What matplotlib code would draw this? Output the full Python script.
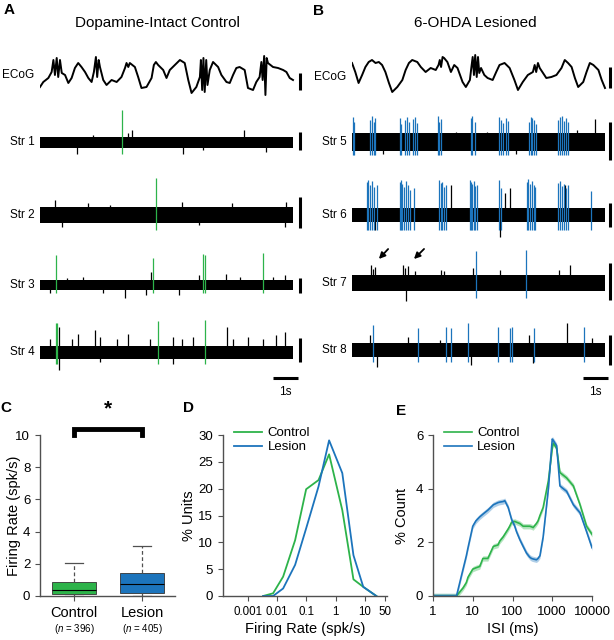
import numpy as np
import matplotlib
matplotlib.use('Agg')
import matplotlib.pyplot as plt
from matplotlib.transforms import blended_transform_factory

plt.rcParams['font.family'] = ['Liberation Sans', 'DejaVu Sans']
plt.rcParams['mathtext.fontset'] = 'custom'
plt.rcParams['mathtext.rm'] = 'Liberation Sans'
plt.rcParams['mathtext.it'] = 'Liberation Sans:italic'

GREEN = '#2db34a'
BLUE = '#1c74bc'
GRAY = '#505050'

#%% ECoG traces (time in s, amplitude in arbitrary units)
ecog_a_t = [0, 0.13, 0.33, 0.46, 0.53, 0.59, 0.66, 0.72, 0.79, 0.86, 0.99, 1.12, 1.25, 1.38, 1.51,
            1.64, 1.78, 1.91, 2.04, 2.13, 2.21, 2.26, 2.32, 2.37, 2.5, 2.63, 2.83, 3.03, 3.22, 3.36,
            3.42, 3.49, 3.55, 3.75, 3.88, 4.01, 4.21, 4.41, 4.5, 4.58, 4.67, 4.87, 5.0, 5.13, 5.33,
            5.53, 5.72, 5.86, 5.99, 6.18, 6.32, 6.36, 6.41, 6.46, 6.51, 6.57, 6.62, 6.71, 6.84, 7.04,
            7.17, 7.37, 7.5, 7.63, 7.76, 7.89, 8.09, 8.22, 8.42, 8.55, 8.68, 8.75, 8.8, 8.86, 8.91,
            8.96, 9.01, 9.21, 9.41, 9.61, 9.74, 9.87, 10.0]
ecog_a_v = [-12, -7, -3, 3, 15, 0, 17, -2, 15, 2, 0, -8, -3, 7, 12,
            8, 3, -3, -7, 3, 18, -2, 15, 8, -5, -10, -5, -7, -2, 7,
            12, 8, 12, 8, -2, -13, -12, -3, 10, 13, 10, 5, -3, 5, 10,
            15, 12, -5, -18, -12, -2, 15, -15, 17, -17, 15, -10, 5, 13, 8,
            0, -7, -8, 0, 7, 8, 5, -13, -15, -7, -2, 13, -5, 19, -20,
            17, 12, 8, 7, 5, 3, -3, -5]

ecog_b_t = [0, 0.13, 0.26, 0.4, 0.53, 0.66, 0.79, 0.93, 1.06, 1.19, 1.32, 1.46, 1.59, 1.79, 1.99,
            2.12, 2.25, 2.38, 2.58, 2.72, 2.91, 3.11, 3.31, 3.42, 3.47, 3.52, 3.58, 3.64, 3.77, 3.91,
            4.04, 4.17, 4.37, 4.5, 4.66, 4.72, 4.77, 4.82, 4.87, 4.93, 4.98, 5.03, 5.1, 5.23, 5.36,
            5.56, 5.7, 5.83, 6.03, 6.23, 6.42, 6.56, 6.75, 6.95, 7.15, 7.22, 7.28, 7.35, 7.42, 7.68,
            7.88, 8.08, 8.28, 8.41, 8.54, 8.68, 8.81, 8.94, 9.14, 9.27, 9.4, 9.54, 9.74, 9.87, 10.0]
ecog_b_v = [12, 3, -8, 0, 8, 13, 15, 12, 13, 10, 3, -8, -17, -12, -5,
            5, 12, 15, 13, 8, 3, 7, 5, 10, 15, 8, 18, 17, 13, 3,
            10, 7, -7, -12, -5, 8, 18, 0, 20, -2, 18, 2, 7, 0, -3,
            -5, 3, 10, 12, 7, -5, -15, -7, 0, 3, 10, 3, 12, 7, -3,
            -2, 0, 7, 15, 12, 8, -3, -12, -7, 3, 12, 10, 5, -5, -13]

#%% striatal traces: noise band half-width, unit spikes and large background deflections
str_half = [5.5, 8, 5, 6.5, 9, 7, 8, 7]

str1_spk_t = [3.25]
str1_spk_up = [32]
str2_spk_t = [4.6]
str2_spk_up = [37]
str3_spk_t = [0.63, 4.47, 6.45, 6.53, 8.8]
str3_spk_up = [30, 27, 31, 30, 32]
str4_spk_t = [0.62, 0.66, 4.67, 6.54]
str4_spk_up = [29, 29, 31, 32]
str5_spk_t = [0.04, 0.08, 0.72, 0.78, 0.85, 0.92, 1.88, 1.95, 2.1, 2.18, 2.27, 2.4, 2.5, 2.58,
              3.4, 3.45, 3.52, 4.7, 4.76, 4.85, 5.8, 5.87, 5.95, 6.1, 6.18, 7.0, 7.07, 7.13, 7.2,
              7.28, 8.15, 8.22, 8.3, 8.38, 8.45, 8.55]
str5_spk_up = [25, 20, 22, 26, 20, 24, 24, 18, 22, 25, 20, 23, 25, 19,
               26, 20, 23, 24, 26, 20, 25, 22, 19, 24, 21, 20, 25, 24, 22,
               18, 22, 25, 26, 21, 24, 20]
str6_spk_t = [0.6, 0.65, 0.7, 0.78, 0.85, 1.0, 1.88, 1.93, 1.98, 2.05, 2.12, 2.2, 2.3, 2.45,
              3.45, 3.5, 3.55, 3.62, 3.7, 4.65, 4.7, 4.75, 4.82, 4.88, 4.95, 5.82, 5.9, 6.92,
              6.97, 7.03, 7.1, 7.18, 7.25, 8.15, 8.22, 8.3, 8.37, 8.45, 8.55, 9.45]
str6_spk_up = [33, 35, 30, 34, 28, 30, 33, 35, 31, 28, 34, 30, 25, 27,
               35, 32, 33, 28, 30, 35, 33, 31, 34, 29, 30, 35, 27, 33,
               36, 31, 34, 30, 28, 32, 34, 29, 31, 27, 30, 24]
str7_spk_t = [4.9, 6.89]
str7_spk_up = [32, 33]
str8_spk_t = [0.83, 2.61, 3.71, 3.91, 4.6, 5.77, 6.25, 6.32, 7.19, 9.17]
str8_spk_up = [25, 22, 23, 22, 27, 23, 22, 23, 22, 23]
str_spk_dn = [12, 15, 8, 12, 13, 15, 15, 12]

str1_bg_t = [1.45, 3.64, 5.66, 8.05, 8.95, 3.49, 6.45, 2.1]
str1_bg_v = [-12, 12, -12, 12, -10, 9, -8, 7]
str2_bg_t = [0.59, 0.86, 1.9, 5.6, 7.6, 9.67, 9.74, 2.76, 6.3]
str2_bg_v = [15, -12, 12, 13, 12, -12, 13, 10, -10]
str3_bg_t = [3.36, 4.2, 4.4, 5.5, 6.3, 7.37, 7.9, 1.7, 2.5, 9.2, 9.7, 1.05, 0.4]
str3_bg_v = [-13, -10, 13, -10, 10, 11, 8, 8, -8, 8, 10, 7, -8]
str4_bg_t = [0.4, 0.76, 0.76, 1.25, 1.5, 2.17, 2.37, 3.03, 3.49, 4.34, 5.26, 5.6, 6.05, 7.41,
             7.63, 8.22, 8.82, 9.34, 9.67, 5.26, 2.37]
str4_bg_v = [13, -18, 25, 13, 18, 22, 15, 13, 18, 13, 15, 13, 15, 25,
             13, 15, 13, 17, 20, -12, -10]
str5_bg_t = [9.6, 8.88, 5.32, 4.13, 1.23, 6.5]
str5_bg_v = [23, 12, 10, 10, -12, -12]
str6_bg_t = [3.93, 6.24, 6.04, 8.42, 5.84, 0.9]
str6_bg_v = [30, 27, 22, 30, -22, -15]
str7_bg_t = [0.77, 0.82, 0.9, 2.0, 2.08, 2.2, 3.5, 3.65, 4.8, 5.84, 8.2, 8.6, 2.15, 2.5]
str7_bg_v = [18, 14, 16, 18, 15, 17, 13, 12, 15, 13, 13, 18, -18, 12]
str8_bg_t = [8.48, 7.0, 2.2, 0.73, 1.0, 4.72, 7.16, 9.5, 3.47]
str8_bg_v = [27, 15, 13, 15, -17, -15, -13, 12, 10]

#%% summary data
box_groups = ['Control', 'Lesion']
box_n = [396, 405]
box_q1 = [0.12, 0.21]
box_med = [0.37, 0.75]
box_q3 = [0.89, 1.45]
box_lo = [0.0, 0.0]
box_hi = [2.07, 3.1]

fr_bins = [0.0033, 0.0072, 0.0159, 0.041, 0.098, 0.26, 0.6, 1.7, 4.1, 8.9, 25]
fr_control = [0, 0.5, 3.6, 10.4, 19.9, 21.6, 26.4, 16.0, 3.1, 1.7, 0]
fr_lesion = [0, 0, 1.4, 5.8, 12.6, 20.4, 29.0, 22.9, 7.6, 1.7, 0]
fr_ticks = [0.001, 0.01, 0.1, 1, 10, 50]
fr_ticklabels = ['0.001', '0.01', '0.1', '1', '10', '50']

isi_ms = [1, 2, 3, 3.9, 5.7, 6.9, 7.6, 10, 12, 15, 18, 24, 33, 43, 48, 58, 64, 78, 85, 95,
          114, 126, 153, 185, 225, 270, 300, 330, 400, 440, 490, 590, 800, 1000, 1060, 1290,
          1560, 2300, 3400, 5000, 7300, 10000]
isi_control = [0, 0, 0, 0, 0.3, 0.5, 0.7, 1.0, 1.05, 1.1, 1.4, 1.4, 1.85, 1.9, 2.05, 2.2, 2.3,
               2.5, 2.6, 2.75, 2.78, 2.75, 2.7, 2.6, 2.6, 2.6, 2.58, 2.55, 2.7, 2.8, 3.0, 3.3,
               4.3, 5.5, 5.7, 5.5, 4.6, 4.4, 4.1, 3.4, 2.6, 2.3]
isi_lesion = [0, 0, 0, 0, 1.0, 1.5, 1.8, 2.6, 2.8, 2.95, 3.05, 3.2, 3.4, 3.48, 3.5, 3.52, 3.55,
              3.3, 3.1, 2.85, 2.6, 2.4, 2.1, 1.85, 1.6, 1.45, 1.4, 1.38, 1.35, 1.4, 1.5, 2.2,
              4.0, 5.85, 5.8, 5.6, 4.1, 3.9, 3.4, 3.1, 2.4, 1.8]
isi_sem = 0.1

#%% figure
W, H = 614, 640
fig = plt.figure(figsize=(W / 100, H / 100), dpi=100)


def box(l, t, r, b):
    return [l / W, 1 - b / H, (r - l) / W, (b - t) / H]


PXS = 25.3  # px per second in the traces

axA = fig.add_axes(box(40, 45, 310, 400))
axA.set_xlim(0, 270 / PXS)
axA.set_ylim(-400, -45)
axA.axis('off')
axB = fig.add_axes(box(352, 45, 614, 400))
axB.set_xlim(0, 262 / PXS)
axB.set_ylim(-400, -45)
axB.axis('off')


def draw_str(ax, c, half, spk_t, spk_up, dn, col, bg_t, bg_v, label):
    ax.fill_between([0, 10], -c - half, -c + half, color='k', lw=0)
    ax.vlines(bg_t, -c, -c + np.array(bg_v), color='k', lw=0.9)
    ax.vlines(spk_t, -c - dn, -c + np.array(spk_up), color=col, lw=0.9)
    ax.text(-0.22, -c, label, ha='right', va='center', fontsize=8.5)


def vbar(ax, t, c, L):
    ax.plot([t, t], [-c - L / 2, -c + L / 2], color='k', lw=2.2, solid_capstyle='butt')


# panel A
axA.plot(ecog_a_t, -75 + np.array(ecog_a_v), color='k', lw=1.4)
axA.text(-0.22, -75, 'ECoG', ha='right', va='center', fontsize=8.5)
a_centers = [142, 215, 285, 352]
a_spk = [(str1_spk_t, str1_spk_up), (str2_spk_t, str2_spk_up),
         (str3_spk_t, str3_spk_up), (str4_spk_t, str4_spk_up)]
a_bg = [(str1_bg_t, str1_bg_v), (str2_bg_t, str2_bg_v),
        (str3_bg_t, str3_bg_v), (str4_bg_t, str4_bg_v)]
for i in range(4):
    draw_str(axA, a_centers[i], str_half[i], a_spk[i][0], a_spk[i][1], str_spk_dn[i],
             GREEN, a_bg[i][0], a_bg[i][1], 'Str %d' % (i + 1))
for c, L in [(81.5, 17), (141, 18), (212.5, 31), (285.5, 15), (350, 24)]:
    vbar(axA, 260 / PXS, c, L)
axA.plot([233 / PXS, 258 / PXS], [-378, -378], color='k', lw=2.2, solid_capstyle='butt')
axA.text(245.5 / PXS, -392, '1s', ha='center', va='center', fontsize=8.5)

# panel B
axB.plot(ecog_b_t, -75 + np.array(ecog_b_v), color='k', lw=1.4)
axB.text(-0.22, -77, 'ECoG', ha='right', va='center', fontsize=8.5)
b_centers = [142, 215, 283, 350]
b_spk = [(str5_spk_t, str5_spk_up), (str6_spk_t, str6_spk_up),
         (str7_spk_t, str7_spk_up), (str8_spk_t, str8_spk_up)]
b_bg = [(str5_bg_t, str5_bg_v), (str6_bg_t, str6_bg_v),
        (str7_bg_t, str7_bg_v), (str8_bg_t, str8_bg_v)]
for i in range(4):
    draw_str(axB, b_centers[i], str_half[i + 4], b_spk[i][0], b_spk[i][1], str_spk_dn[i + 4],
             BLUE, b_bg[i][0], b_bg[i][1], 'Str %d' % (i + 5))
for c, L in [(77.5, 21), (141, 38), (215, 24), (281, 37), (350, 30)]:
    vbar(axB, 258 / PXS, c, L)
axB.plot([231 / PXS, 256 / PXS], [-378, -378], color='k', lw=2.2, solid_capstyle='butt')
axB.text(243.5 / PXS, -392, '1s', ha='center', va='center', fontsize=8.5)
for hx, tx in [(25, 38), (60, 74)]:
    axB.annotate('', xy=(hx / PXS, -261), xytext=(tx / PXS, -247),
                 arrowprops=dict(arrowstyle='-|>', color='k', lw=1.3, mutation_scale=9))

fig.text(157 / W, 1 - 23 / H, 'Dopamine-Intact Control', ha='center', va='center', fontsize=11)
fig.text(475 / W, 1 - 23 / H, '6-OHDA Lesioned', ha='center', va='center', fontsize=11)
for lab, x, y in [('A', 9, 10), ('B', 319, 11), ('C', 6, 408), ('D', 188, 408), ('E', 401, 411)]:
    fig.text(x / W, 1 - y / H, lab, ha='center', va='center', fontsize=11, fontweight='bold')


def style(ax):
    for s in ['top', 'right']:
        ax.spines[s].set_visible(False)
    for s in ['left', 'bottom']:
        ax.spines[s].set_color(GRAY)
        ax.spines[s].set_linewidth(1.0)
    ax.tick_params(which='both', colors=GRAY, labelcolor='k', labelsize=9.5, width=0.8)
    ax.tick_params(which='major', length=3.5)
    ax.tick_params(which='minor', length=2)


# panel C
axC = fig.add_axes(box(40, 435, 175, 596))
stats = [dict(med=box_med[i], q1=box_q1[i], q3=box_q3[i], whislo=box_lo[i], whishi=box_hi[i],
              label=box_groups[i]) for i in range(2)]
bp = axC.bxp(stats, positions=[1, 2], widths=0.65, patch_artist=True, showfliers=False,
             boxprops=dict(linewidth=0.6, edgecolor='#333333'),
             medianprops=dict(color='k', linewidth=0.8),
             whiskerprops=dict(color=GRAY, linestyle=(0, (3, 2)), linewidth=0.9),
             capprops=dict(color=GRAY, linewidth=0.9), capwidths=0.26)
for patch, col in zip(bp['boxes'], [GREEN, BLUE]):
    patch.set_facecolor(col)
axC.set_xlim(0.5, 2.485)
axC.set_ylim(0, 10)
axC.set_yticks([0, 2, 4, 6, 8, 10])
axC.set_xticks([1, 2])
axC.set_xticklabels(box_groups)
style(axC)
axC.tick_params(axis='x', labelsize=10.5, pad=4)
axC.set_ylabel('Firing Rate (spk/s)', fontsize=10.5)
axC.yaxis.set_label_coords(-0.14, 0.5)
tr = blended_transform_factory(axC.transData, axC.transAxes)
for x, n in zip([1, 2], box_n):
    axC.text(x, -0.205, r'($\it{n}$ = %d)' % n, transform=tr, ha='center', va='center', fontsize=7)
axC.plot([1, 1, 2, 2], [10.0, 10.4, 10.4, 10.0], color='k', lw=3.5, clip_on=False,
         solid_joinstyle='miter')
axC.text(1.5, 11.6, '*', ha='center', va='center', fontsize=15, fontweight='bold')

# panel D
axD = fig.add_axes(box(223, 435, 387, 596))
axD.plot(fr_bins, fr_control, color=GREEN, lw=1.3, label='Control')
axD.plot(fr_bins, fr_lesion, color=BLUE, lw=1.3, label='Lesion')
axD.set_xscale('log')
axD.set_xlim(1.38e-4, 58)
axD.set_ylim(0, 30)
axD.set_yticks([0, 5, 10, 15, 20, 25, 30])
axD.set_xticks(fr_ticks)
axD.set_xticklabels(fr_ticklabels)
style(axD)
axD.tick_params(axis='x', labelsize=8.3)
axD.set_xlabel('Firing Rate (spk/s)', fontsize=10.5, labelpad=3)
axD.set_ylabel('% Units', fontsize=10.5)
axD.yaxis.set_label_coords(-0.165, 0.5)
axD.legend(loc='upper left', bbox_to_anchor=(0.07, 1.05), frameon=False, fontsize=9.5,
           handlelength=2.1, handletextpad=0.4, labelspacing=0.15, borderpad=0, borderaxespad=0)

# panel E
axE = fig.add_axes(box(433, 435, 592, 596))
for vals, col, lab in [(isi_control, GREEN, 'Control'), (isi_lesion, BLUE, 'Lesion')]:
    v = np.array(vals)
    axE.fill_between(isi_ms, v - isi_sem, v + isi_sem, color=col, alpha=0.35, lw=0)
    axE.plot(isi_ms, v, color=col, lw=1.2, label=lab)
axE.set_xscale('log')
axE.set_xlim(1, 10000)
axE.set_ylim(0, 6)
axE.set_yticks([0, 2, 4, 6])
axE.set_xticks([1, 10, 100, 1000, 10000])
axE.set_xticklabels(['1', '10', '100', '1000', '10000'])
style(axE)
axE.set_xlabel('ISI (ms)', fontsize=10.5, labelpad=3)
axE.set_ylabel('% Count', fontsize=10.5)
axE.yaxis.set_label_coords(-0.15, 0.5)
axE.legend(loc='upper left', bbox_to_anchor=(0.07, 1.05), frameon=False, fontsize=9.5,
           handlelength=2.1, handletextpad=0.4, labelspacing=0.15, borderpad=0, borderaxespad=0)

fig.savefig('out.png', dpi=100)
